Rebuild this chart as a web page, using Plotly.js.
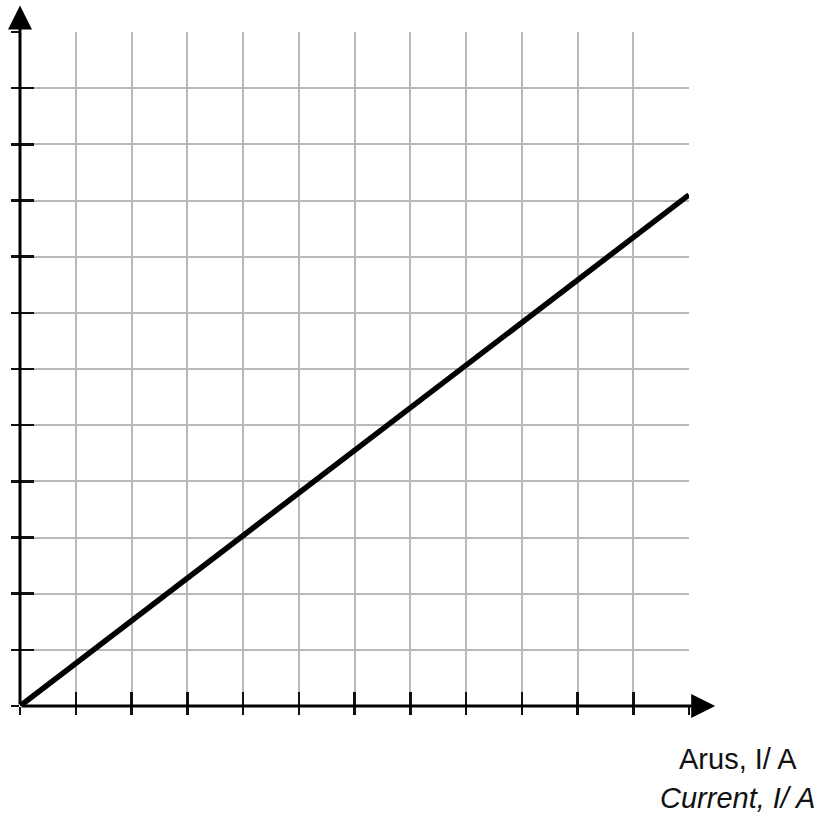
<!DOCTYPE html>
<html>
<head>
<meta charset="utf-8">
<script src="https://cdn.plot.ly/plotly-3.0.1.min.js"></script>
<style>html,body{margin:0;padding:0;background:#fff;}#chart{width:818px;height:816px;}</style>
</head>
<body>
<div id="chart"></div>
<script>
// Data
const currentI = [0, 12];      // Current, I / A (grid units)
const voltageV = [0, 9.1];     // vertical value (grid units)
const axisLabelMalay = "Arus, I/ A";
const axisLabelEnglish = "Current, I/ A";

const trace = {
  x: currentI, y: voltageV, type: 'scatter', mode: 'lines',
  line: {color: '#000', width: 5.5}, hoverinfo: 'skip', showlegend: false
};
// invisible trace to activate overlay axes (for crossing ticks)
const ghost = {x: currentI, y: voltageV, xaxis: 'x2', yaxis: 'y2', mode: 'lines',
  line: {color: 'rgba(0,0,0,0)'}, hoverinfo: 'skip', showlegend: false};

const baseAxis = {
  range: [0, 12], dtick: 1, tick0: 0, showticklabels: false,
  showgrid: true, gridcolor: '#b9b9b9', gridwidth: 2,
  zeroline: false, showline: false,
  ticks: 'inside', ticklen: 14, tickwidth: 2.5, tickcolor: '#111', fixedrange: true
};
const overAxis = {
  range: [0, 12], dtick: 1, tick0: 0, showticklabels: false, showgrid: false,
  zeroline: false, showline: false, ticks: 'outside', ticklen: 8, tickwidth: 2.5,
  tickcolor: '#111', fixedrange: true
};

const layout = {
  width: 818, height: 816,
  margin: {l: 20, r: 129, t: 32, b: 110},
  paper_bgcolor: '#fff', plot_bgcolor: '#fff',
  xaxis: Object.assign({}, baseAxis),
  yaxis: Object.assign({}, baseAxis),
  xaxis2: Object.assign({overlaying: 'x', side: 'bottom', anchor: 'y2'}, overAxis),
  yaxis2: Object.assign({overlaying: 'y', side: 'left', anchor: 'x2'}, overAxis),
  annotations: [
    {x: 12.47, y: 0, ax: 0, ay: 0, axref: 'x', ayref: 'y', xref: 'x', yref: 'y',
     text: '', showarrow: true, arrowhead: 2, arrowsize: 1.6, arrowwidth: 3, arrowcolor: '#000'},
    {x: 0, y: 12.47, ax: 0, ay: 0, axref: 'x', ayref: 'y', xref: 'x', yref: 'y',
     text: '', showarrow: true, arrowhead: 2, arrowsize: 1.6, arrowwidth: 3, arrowcolor: '#000'},
    {xref: 'paper', yref: 'paper', xanchor: 'center', yanchor: 'middle',
     text: axisLabelMalay, showarrow: false,
     font: {family: 'Liberation Sans, Arial, sans-serif', size: 29, color: '#111'}},
    {xref: 'paper', yref: 'paper', xanchor: 'center', yanchor: 'middle',
     text: '<i>' + axisLabelEnglish + '</i>', showarrow: false,
     font: {family: 'Liberation Sans, Arial, sans-serif', size: 29, color: '#111'}}
  ]
};
// position labels below the plot area (pixel positions converted to paper units)
const plotW = 818 - 20 - 129, plotH = 816 - 32 - 110;
layout.annotations[2].x = (737.5 - 20) / plotW;
layout.annotations[3].x = (737.5 - 20) / plotW;
layout.annotations[2].y = (816 - 110 - 759) / plotH;
layout.annotations[3].y = (816 - 110 - 798) / plotH;

Plotly.newPlot('chart', [trace, ghost], layout, {staticPlot: true, displayModeBar: false});
</script>
</body>
</html>
